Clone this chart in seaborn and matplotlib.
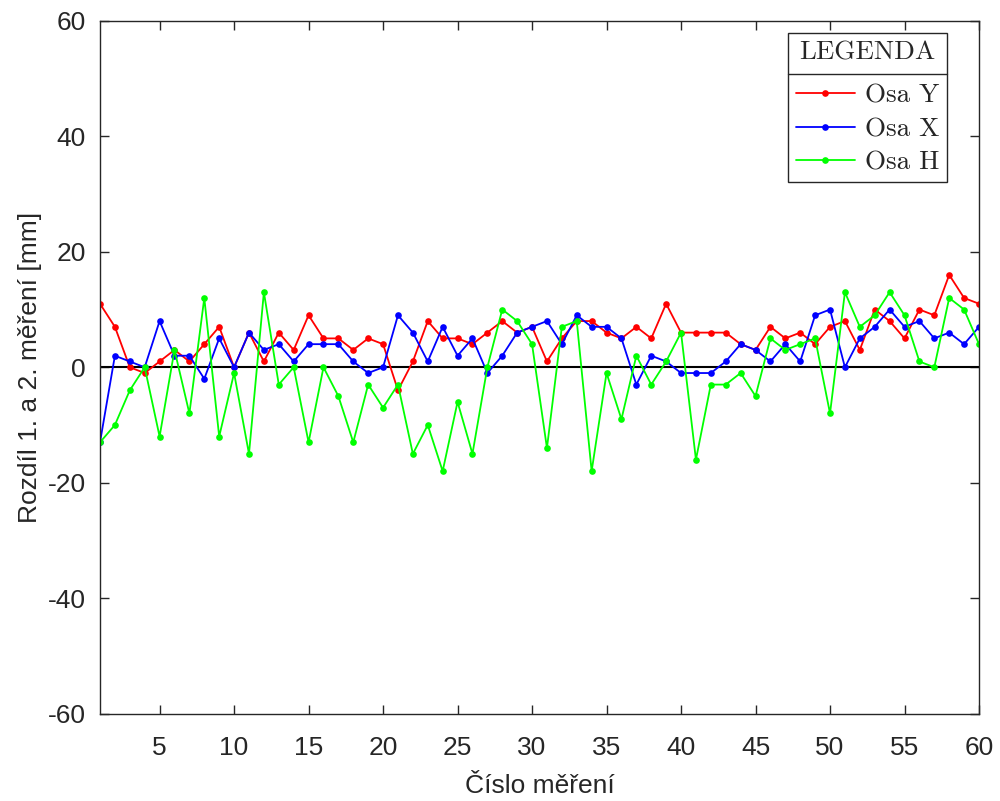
import numpy as np
import pandas as pd
import matplotlib
matplotlib.use("Agg")
import matplotlib.pyplot as plt
import seaborn as sns
from matplotlib.lines import Line2D

# Číslo měření
cislo = list(range(1, 61))

# Rozdíly 1. a 2. měření [mm]
osa_y = [11, 7, 0, -1, 1, 3, 1, 4, 7, 0,
         6, 1, 6, 3, 9, 5, 5, 3, 5, 4,
         -4, 1, 8, 5, 5, 4, 6, 8, 6, 7,
         1, 5, 8, 8, 6, 5, 7, 5, 11, 6,
         6, 6, 6, 4, 3, 7, 5, 6, 4, 7,
         8, 3, 10, 8, 5, 10, 9, 16, 12, 11]
osa_x = [-13, 2, 1, 0, 8, 2, 2, -2, 5, 0,
         6, 3, 4, 1, 4, 4, 4, 1, -1, 0,
         9, 6, 1, 7, 2, 5, -1, 2, 6, 7,
         8, 4, 9, 7, 7, 5, -3, 2, 1, -1,
         -1, -1, 1, 4, 3, 1, 4, 1, 9, 10,
         0, 5, 7, 10, 7, 8, 5, 6, 4, 7]
osa_h = [-13, -10, -4, 0, -12, 3, -8, 12, -12, -1,
         -15, 13, -3, 0, -13, 0, -5, -13, -3, -7,
         -3, -15, -10, -18, -6, -15, 0, 10, 8, 4,
         -14, 7, 8, -18, -1, -9, 2, -3, 1, 6,
         -16, -3, -3, -1, -5, 5, 3, 4, 5, -8,
         13, 7, 9, 13, 9, 1, 0, 12, 10, 4]

nazvy = ["Osa Y", "Osa X", "Osa H"]
barvy = {"Osa Y": "#ff0000", "Osa X": "#0000ff", "Osa H": "#00ff00"}

df = pd.DataFrame({
    "cislo": cislo * 3,
    "rozdil": osa_y + osa_x + osa_h,
    "osa": [nazvy[0]] * 60 + [nazvy[1]] * 60 + [nazvy[2]] * 60,
})

sns.set_style("ticks")
plt.rcParams["font.family"] = ["Liberation Sans", "DejaVu Sans"]
plt.rcParams["xtick.direction"] = "in"
plt.rcParams["ytick.direction"] = "in"
plt.rcParams["axes.unicode_minus"] = False

fig = plt.figure(figsize=(10, 8.01), dpi=100)
ax = fig.add_axes([0.100, 0.109, 0.879, 0.865])

ax.axhline(0, color="black", lw=1.5, zorder=1)
sns.lineplot(data=df, x="cislo", y="rozdil", hue="osa", hue_order=nazvy,
             palette=barvy, marker="o", markersize=4.8, markeredgewidth=0,
             linewidth=1.3, legend=False, ax=ax, zorder=2)

ax.set_xlim(1, 60)
ax.set_ylim(-60, 60)
ax.set_xticks(range(5, 61, 5))
ax.set_yticks(range(-60, 61, 20))
ax.set_xlabel("Číslo měření", fontsize=19, color="#262626", labelpad=10)
ax.set_ylabel("Rozdíl 1. a 2. měření [mm]", fontsize=19, color="#262626", labelpad=4)

for s in ax.spines.values():
    s.set_visible(True)
    s.set_color("#262626")
    s.set_linewidth(1.0)
ax.tick_params(axis="both", labelsize=19, colors="#262626", length=6.5, width=1.0,
               top=True, right=True)
ax.tick_params(axis="x", pad=16)
ax.tick_params(axis="y", pad=10)

# Legenda
handles = [Line2D([0], [0], color=barvy[n], lw=1.3, marker="o", markersize=4.8,
                  markeredgewidth=0) for n in nazvy]
leg = ax.legend(handles, nazvy, title="LEGENDA", loc="upper right",
                bbox_to_anchor=(0.964, 0.983), borderaxespad=0, fancybox=False,
                framealpha=1, edgecolor="#262626", handlelength=2.2,
                handletextpad=0.35, labelspacing=0.34, borderpad=0.3,
                prop={"family": "cmr10", "size": 19.5},
                title_fontproperties={"family": "cmr10", "size": 19.5})
leg.get_frame().set_linewidth(1.0)
leg._legend_box.sep = 14

fig.canvas.draw()
r = fig.canvas.get_renderer()
tb = leg.get_title().get_window_extent(r)
t0 = leg.get_texts()[0].get_window_extent(r)
lb = leg.get_window_extent(r)
inv = fig.transFigure.inverted()
y_sep = inv.transform((0, (tb.y0 + t0.y1) / 2))[1]
x0 = inv.transform((lb.x0, 0))[0]
x1 = inv.transform((lb.x1, 0))[0]
fig.add_artist(Line2D([x0, x1], [y_sep, y_sep], color="#262626", lw=1.0))

plt.savefig("out.png", dpi=100)
